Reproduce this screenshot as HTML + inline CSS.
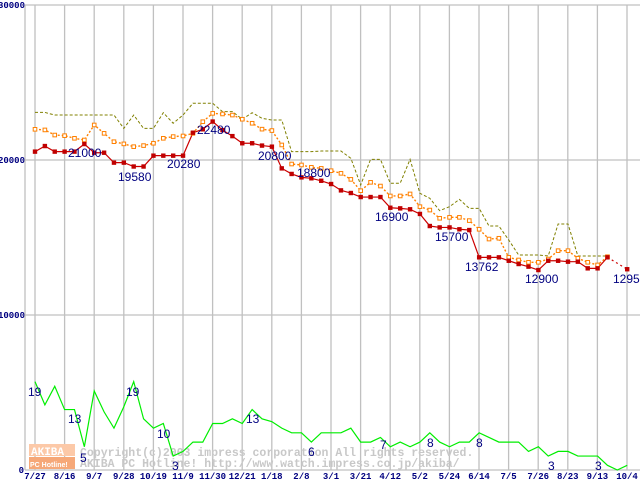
<!DOCTYPE html>
<html><head><meta charset="utf-8"><style>
body{margin:0;background:#fff;}
svg{display:block;font-family:"Liberation Sans",sans-serif;}
.ax{font-family:"Liberation Mono",monospace;font-size:9px;fill:#000080;font-weight:bold;}
.lb{font-size:12px;fill:#000080;}
.wm{font-family:"Liberation Mono",monospace;font-size:11.5px;font-weight:bold;fill:#c8c8c8;}
</style></head><body>
<svg id="chart" width="640" height="480" viewBox="0 0 640 480"></svg>
<script>
const xTickLabels=["7/27","8/16","9/7","9/28","10/19","11/9","11/30","12/21","1/18","2/8","3/1","3/21","4/12","5/2","5/24","6/14","7/5","7/26","8/23","9/13","10/4"];
const yTickValues=[0,10000,20000,30000];
const minPrice=[20540,20900,20540,20540,20540,21030,20470,20470,19830,19830,19580,19580,20280,20280,20280,20280,21760,21980,22480,21930,21540,21080,21080,20930,20860,19460,19100,18880,18820,18660,18450,18040,17870,17610,17610,17610,16920,16880,16820,16520,15740,15650,15650,15530,15480,13720,13720,13720,13500,13290,13120,12900,13500,13500,13440,13440,13010,13010,13720,null,12953];
const avgPrice=[21980,21940,21610,21570,21400,21290,22260,21720,21180,21040,20860,20930,21080,21400,21510,21550,21720,22470,23010,22970,22900,22630,22370,21990,21900,20970,19740,19680,19530,19460,19310,19140,18750,18020,18560,18320,17680,17680,17810,16990,16770,16240,16300,16300,16090,15530,14900,14950,13720,13550,13400,13400,13610,14150,14150,13660,13400,13230,13760,null,null];
const maxPrice=[23070,23070,22900,22900,22900,22900,22900,22900,22900,22040,22900,22040,22040,23050,22370,22900,23660,23660,23660,23120,23120,22630,23050,22690,22580,22580,20540,20540,20540,20580,20580,20580,20110,18390,20040,20040,18500,18500,20040,17850,17530,16730,16990,17460,16880,16880,15740,15740,14840,13870,13870,13870,13810,15870,15870,13810,13810,13810,13810,null,null];
const shopCount=[19,14,18,13,13,5,17,12.5,9,13.6,19,11,9,10,3,4,6,6,10,10,11,10,13,11,10.4,9,8,8,6,8,8,8,9,6,6,7,5,6,5,6,8,6,5,6,6,8,7,6,6,6,4,5,3,4,4,3,3,3,1,0,1];
const priceLabels=[["21000",68,157],["19580",118,181],["20280",167,168],["22480",197,134],["20800",258,160],["18800",297,177],["16900",375,221],["15700",435,241],["13762",465,271],["12900",525,283],["12953",613,283]];
const countLabels=[["19",28,396],["13",68,423],["5",80,462],["19",126,396],["10",157,438],["3",172,470],["13",246,423],["6",308,456],["7",380,449],["8",427,447],["8",476,447],["3",548,470],["3",595,470]];
const NS="http://www.w3.org/2000/svg";
const svg=document.getElementById('chart');
function xi(i){return 35+i*9.87;}
function yp(v){return 470-v*0.0155;}
function yc(c){return 470-c*4.65;}
function mk(tag,attrs,parent){const e=document.createElementNS(NS,tag);for(const k in attrs)e.setAttribute(k,attrs[k]);(parent||svg).appendChild(e);return e;}
for(let j=0;j<xTickLabels.length;j++){
  const x=35+j*29.6;
  const g=mk('line',{x1:x,y1:5,x2:x,y2:470,stroke:'#c0c0c0','stroke-width':1.3});
  
  
  const t=mk('text',{x:x,y:479,'text-anchor':'middle',class:'ax'});
  t.textContent=xTickLabels[j];
  
  
}
for(const v of yTickValues){
  const y=yp(v);
  const g=mk('line',{x1:25,y1:y,x2:640,y2:y,stroke:'#c0c0c0','stroke-width':1.3});
  
  
  const t=mk('text',{x:v===0?24:25,y:y+3,'text-anchor':'end',class:'ax'});
  t.textContent=String(v);
  
  
}
const ax=mk('line',{x1:25,y1:5,x2:25,y2:470,stroke:'#c0c0c0','stroke-width':1.3});


const wg=mk('g',{});


mk('rect',{x:29,y:444,width:46,height:12,fill:'#fcc9a8'},wg);
mk('rect',{x:29,y:457,width:46,height:12,fill:'#f6a878'},wg);
const a1=mk('text',{x:31,y:455,fill:'#fff','font-size':'11px','font-weight':'bold','font-family':'Liberation Mono,monospace'},wg);a1.textContent='AKIBA';
const a2=mk('text',{x:30,y:467,fill:'#fff','font-size':'7px','font-weight':'bold'},wg);a2.textContent='PC Hotline!';
const w1=mk('text',{x:80,y:456,class:'wm'},wg);w1.textContent='Copyright(c)2003 impress corporation All rights reserved.';
const w2=mk('text',{x:80,y:467,class:'wm'},wg);w2.textContent='AKIBA PC Hotline!  http://www.watch.impress.co.jp/akiba/';
function drawLine(arr,yf,color,dash,name,w){
  let segs=[],cur=[];
  arr.forEach((v,i)=>{if(v===null){if(cur.length)segs.push(cur);cur=[];}else cur.push([xi(i),yf(v)]);});
  if(cur.length)segs.push(cur);
  segs.forEach(s=>{
    const p=mk('polyline',{points:s.map(q=>q.join(',')).join(' '),fill:'none',stroke:color,'stroke-width':w||1.2,'stroke-dasharray':dash||'none'});
    
    
  });
  for(let k=0;k+1<segs.length;k++){
    const a=segs[k][segs[k].length-1],b=segs[k+1][0];
    const d=mk('line',{x1:a[0],y1:a[1],x2:b[0],y2:b[1],stroke:color,'stroke-width':1.2,'stroke-dasharray':'2,3'});
    
    
  }
}
drawLine(maxPrice,yp,'#808000','3,2','max-price-line',1);
drawLine(avgPrice,yp,'#ff8000','2,2','avg-price-line',1.4);
drawLine(minPrice,yp,'#cc0000','','min-price-line',1.2);
drawLine(shopCount,yc,'#00ee00','','shop-count-line',1.2);
avgPrice.forEach((v,i)=>{if(v===null)return;
  const r=mk('rect',{x:xi(i)-1.8,y:yp(v)-1.8,width:3.6,height:3.6,fill:'#fff',stroke:'#ff8000','stroke-width':1});
  
  
});
minPrice.forEach((v,i)=>{if(v===null)return;
  const r=mk('rect',{x:xi(i)-2.2,y:yp(v)-2.2,width:4.4,height:4.4,fill:'#c00000'});
  
  
});
priceLabels.forEach(l=>{
  const t=mk('text',{x:l[1],y:l[2],class:'lb'});t.textContent=l[0];
  
  
});
countLabels.forEach(l=>{
  const t=mk('text',{x:l[1],y:l[2],class:'lb'});t.textContent=l[0];
  
  
});
</script>
</body></html>
